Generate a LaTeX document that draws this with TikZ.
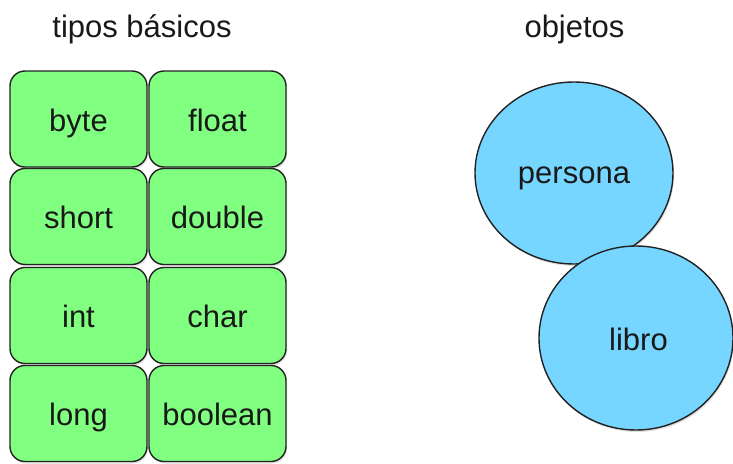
\documentclass[tikz,border=0pt]{standalone}
\usepackage{fontspec}
\setmainfont{Liberation Sans}
\usetikzlibrary{shapes.geometric,shadows}
\definecolor{boxgreen}{HTML}{80FF80}
\definecolor{objblue}{HTML}{76D6FF}
\definecolor{edge}{HTML}{222222}
\begin{document}
\begin{tikzpicture}[x=1pt,y=-1pt,
  every node/.style={font=\fontsize{31}{37}\selectfont, text=black!90},
  typebox/.style={draw=edge, line width=1.4pt, fill=boxgreen, rounded corners=15pt,
    minimum width=137pt, minimum height=96pt, inner sep=0pt, text height=30pt, text depth=6pt,
    drop shadow={shadow xshift=1pt, shadow yshift=-2pt, opacity=0.25}},
  objell/.style={ellipse, draw=edge, line width=1.4pt, fill=objblue, inner sep=0pt,
    drop shadow={shadow xshift=1pt, shadow yshift=-2pt, opacity=0.25}},
  lbl/.style={inner sep=0pt, anchor=base}]
\useasboundingbox (0,0) rectangle (733,463);
\node[lbl] (t1) at (142,37) {tipos básicos};
\node[lbl] (t2) at (574.5,37) {objetos};
\node[typebox] (byte) at (78.5,119) {byte};
\node[typebox] (float) at (217.5,119) {float};
\node[typebox] (short) at (78.5,216.5) {short};
\node[typebox] (double) at (217.5,216.5) {double};
\node[typebox] (int) at (78.5,315.5) {int};
\node[typebox] (char) at (217.5,315.5) {char};
\node[typebox] (long) at (78.5,413.5) {long};
\node[typebox] (boolean) at (217.5,413.5) {boolean};
\node[objell, minimum width=198pt, minimum height=182pt] (persona) at (574,173) {};
\node[lbl] (personalbl) at (574,183) {persona};
\node[objell, minimum width=194pt, minimum height=184pt] (libroell) at (636,338) {};
\node[lbl] (libro) at (638.5,350) {libro};
\end{tikzpicture}
\end{document}
